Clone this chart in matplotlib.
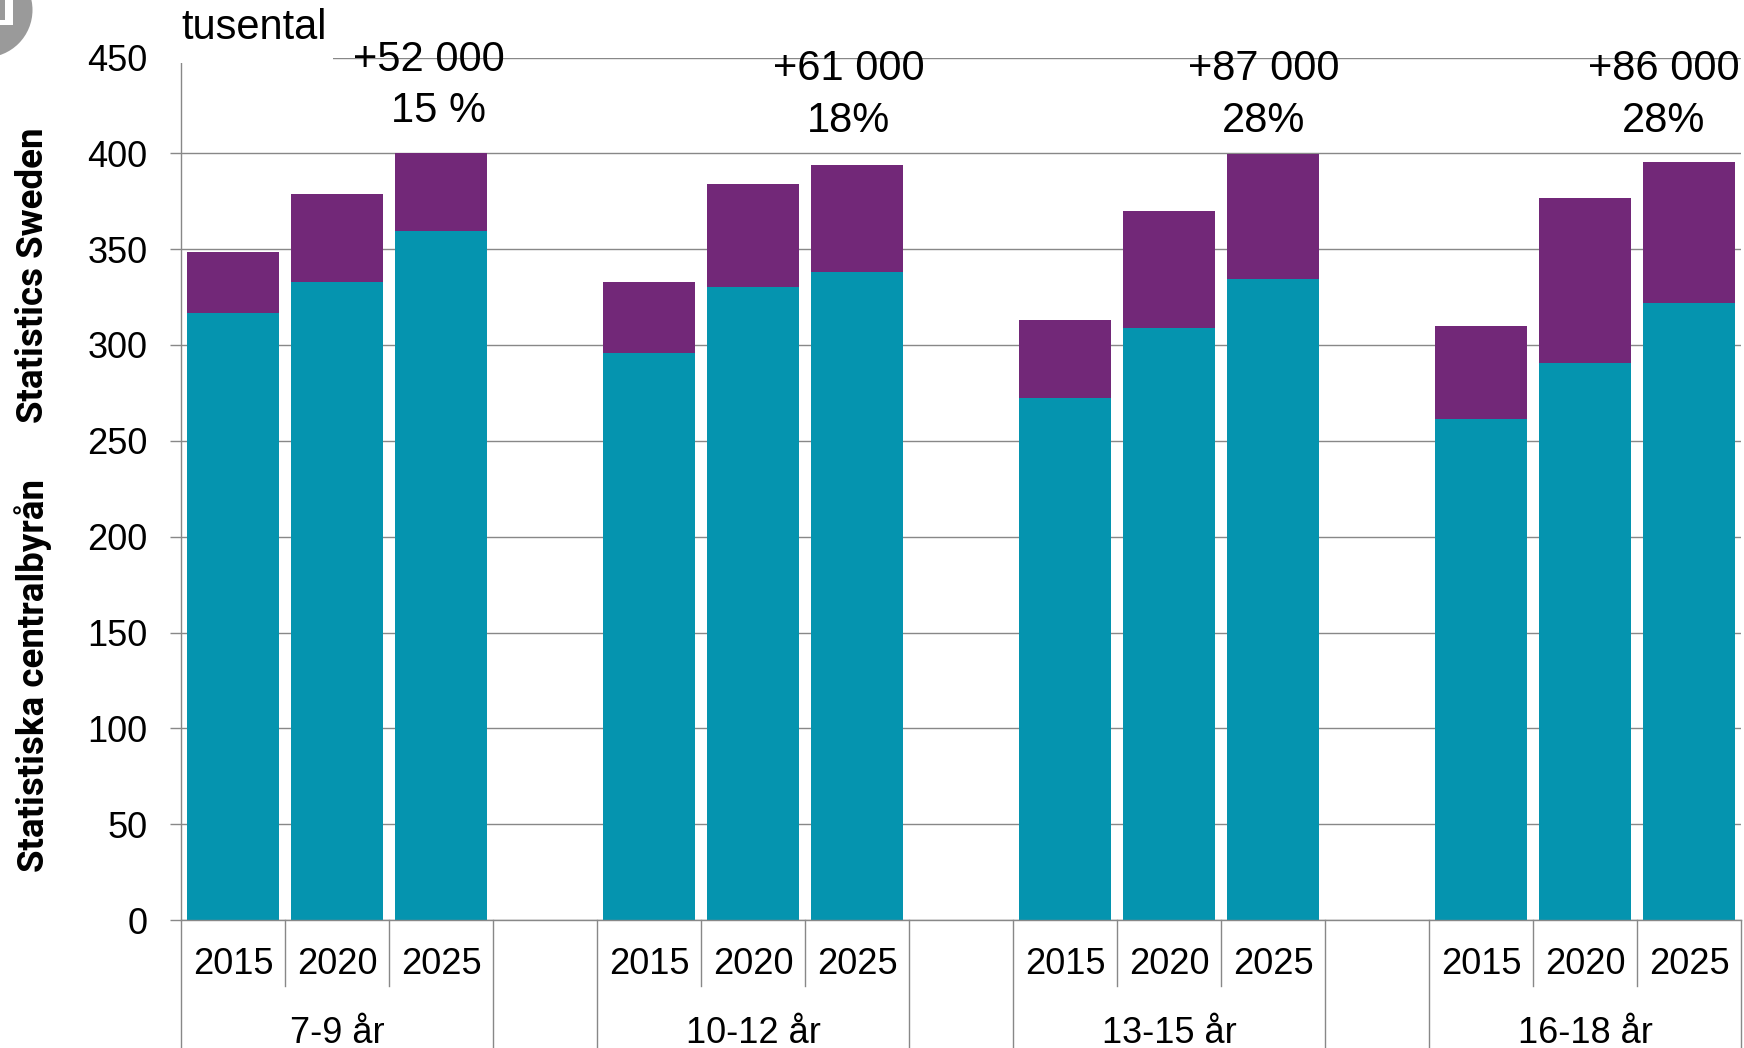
import matplotlib
matplotlib.use('Agg')
import matplotlib.pyplot as plt
from matplotlib.patches import Rectangle, Circle
from matplotlib.transforms import blended_transform_factory, IdentityTransform

plt.rcParams['font.family'] = ['Liberation Sans', 'DejaVu Sans']

# values in thousands
groups = ['7-9 år', '10-12 år', '13-15 år', '16-18 år']
years = ['2015', '2020', '2025']
base = [[316.5, 332.8, 359.5],
        [295.6, 330.4, 338.0],
        [272.4, 309.0, 334.5],
        [261.3, 290.4, 322.0]]
total = [[348.4, 378.6, 400.0],
         [332.8, 383.9, 393.7],
         [313.0, 369.9, 399.5],
         [310.0, 376.8, 395.6]]
change_txt = ['+52 000', '+61 000', '+87 000', '+86 000']
pct_txt = ['15 %', '18%', '28%', '28%']

teal = '#0594AF'
purple = '#722878'
grey = '#888888'

W, H = 1744, 1048
fig = plt.figure(figsize=(W / 100, H / 100), dpi=100)
left, right, bottom, top = 181, 1741, 920, 57.5
ax = fig.add_axes([left / W, (H - bottom) / H, (right - left) / W, (bottom - top) / H])

nslots = 4 * len(groups) - 1
for g in range(len(groups)):
    xs = [g * 4 + j + 0.5 for j in range(len(years))]
    top_part = [t - b for t, b in zip(total[g], base[g])]
    ax.bar(xs, base[g], width=0.89, color=teal, zorder=2)
    ax.bar(xs, top_part, bottom=base[g], width=0.89, color=purple, zorder=2)

ax.set_xlim(0, nslots)
ax.set_ylim(0, 450)
ax.set_yticks(range(0, 451, 50))
ax.set_xticks([])
ax.yaxis.grid(True, color=grey, lw=1.0)
ax.set_axisbelow(True)
for s in ['top', 'right']:
    ax.spines[s].set_visible(False)
for s in ['left', 'bottom']:
    ax.spines[s].set_color(grey)
    ax.spines[s].set_linewidth(1.0)
ax.tick_params(axis='y', direction='out', length=8, width=1.0, color=grey,
               labelsize=26, pad=16)

# category axis: years and age groups
trans = blended_transform_factory(ax.transData, ax.transAxes)
short_y = -(986 - bottom) / (bottom - top)
long_y = -(1060 - bottom) / (bottom - top)
for k in range(nslots + 1):
    inner = k % 4 in (1, 2)
    ax.plot([k, k], [0, short_y if inner else long_y], color=grey, lw=1.0,
            transform=trans, clip_on=False)
yr_y = -(965 - bottom) / (bottom - top)
grp_y = -(1043 - bottom) / (bottom - top)
for g, name in enumerate(groups):
    for j, yr in enumerate(years):
        ax.text(g * 4 + j + 0.5, yr_y, yr, transform=trans, ha='center', va='center', fontsize=26)
    ax.text(g * 4 + 1.5, grp_y, name, transform=trans, ha='center', va='baseline', fontsize=26)

# change labels above the 2025 bars
offs = [-0.12, -0.08, -0.09, -0.24]
lab_y = [(448.7, 422), (444, 417), (444, 417), (444, 417)]
for g in range(len(groups)):
    x = g * 4 + 2.5 + offs[g]
    ax.text(x, lab_y[g][0], change_txt[g], ha='center', va='center', fontsize=30, clip_on=False)
    ax.text(x + (0.1 if g == 0 else 0), lab_y[g][1], pct_txt[g], ha='center', va='center',
            fontsize=30, clip_on=False)

# unit label sits on a white patch hiding the top gridline start
fig.patches.append(Rectangle((168 / W, 1 - 63 / H), 165 / W, 63 / H, transform=fig.transFigure,
                             facecolor='white', edgecolor='none', zorder=5))
fig.text(181 / W, 1 - 28 / H, 'tusental', ha='left', va='center', fontsize=30, zorder=6)

# SCB logo
px = IdentityTransform()
fig.patches.append(Circle((-15, H - 10), 47.5, transform=px, facecolor='#9a9a9a',
                          edgecolor='none', zorder=5))
fig.patches.append(Rectangle((0, H - 25), 13, 25, transform=px, facecolor='white',
                             edgecolor='none', zorder=6))
fig.patches.append(Rectangle((0, H - 20), 5, 20, transform=px, facecolor='#9a9a9a',
                             edgecolor='none', zorder=7))
logo_font = dict(rotation=90, ha='center', va='center', fontsize=26.5, fontweight='bold',
                 family=['Roboto', 'DejaVu Sans'])
fig.text(33 / W, 1 - 275 / H, 'Statistics Sweden', **logo_font)
fig.text(33 / W, 1 - 675 / H, 'Statistiska centralbyrån', **logo_font)

fig.savefig('out.png', dpi=100)
